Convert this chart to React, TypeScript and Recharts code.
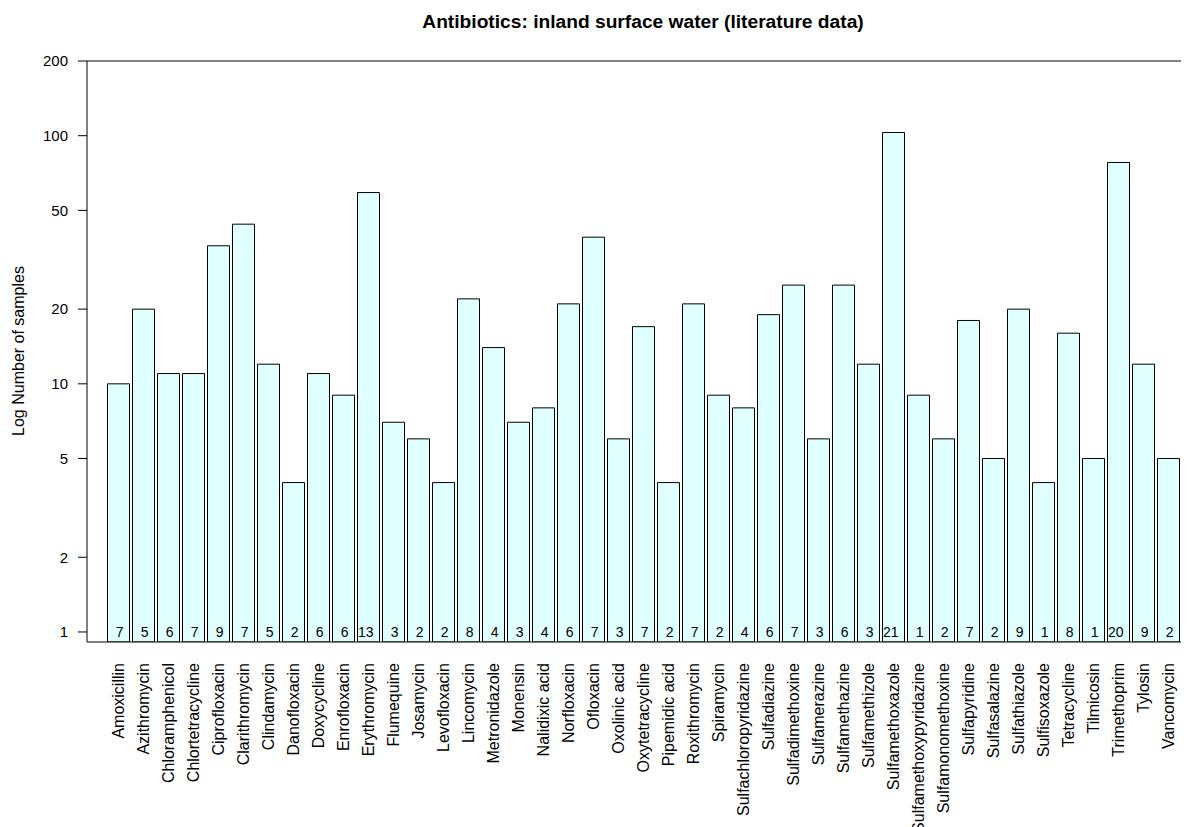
import { Bar, BarChart, LabelList, ReferenceLine, XAxis, YAxis } from "recharts";

const antibiotics = [
  "Amoxicillin", "Azithromycin", "Chloramphenicol", "Chlortetracycline", "Ciprofloxacin",
  "Clarithromycin", "Clindamycin", "Danofloxacin", "Doxycycline", "Enrofloxacin",
  "Erythromycin", "Flumequine", "Josamycin", "Levofloxacin", "Lincomycin",
  "Metronidazole", "Monensin", "Nalidixic acid", "Norfloxacin", "Ofloxacin",
  "Oxolinic acid", "Oxytetracycline", "Pipemidic acid", "Roxithromycin", "Spiramycin",
  "Sulfachloropyridazine", "Sulfadiazine", "Sulfadimethoxine", "Sulfamerazine", "Sulfamethazine",
  "Sulfamethizole", "Sulfamethoxazole", "Sulfamethoxypyridazine", "Sulfamonomethoxine", "Sulfapyridine",
  "Sulfasalazine", "Sulfathiazole", "Sulfisoxazole", "Tetracycline", "Tilmicosin",
  "Trimethoprim", "Tylosin", "Vancomycin",
];

// number of samples (bar height, log axis)
const samples = [
  10, 20, 11, 11, 36, 44, 12, 4, 11, 9,
  59, 7, 6, 4, 22, 14, 7, 8, 21, 39,
  6, 17, 4, 21, 9, 8, 19, 25, 6, 25,
  12, 103, 9, 6, 18, 5, 20, 4, 16, 5,
  78, 12, 5,
];

// number of studies (printed at the foot of each bar)
const studies = [
  7, 5, 6, 7, 9, 7, 5, 2, 6, 6,
  13, 3, 2, 2, 8, 4, 3, 4, 6, 7,
  3, 7, 2, 7, 2, 4, 6, 7, 3, 6,
  3, 21, 1, 2, 7, 2, 9, 1, 8, 1,
  20, 9, 2,
];

const yTicks = [1, 2, 5, 10, 20, 50, 100, 200];

const FONT = "'Liberation Sans', Arial, sans-serif";

const data = antibiotics.map((name, i) => ({
  name,
  samples: samples[i],
  studies: studies[i],
}));

function NameTick({ x, y, payload }: any) {
  return (
    <text
      transform={`translate(${x},${y + 13}) rotate(-90)`}
      textAnchor="end"
      dominantBaseline="central"
      fontSize={16}
      fontFamily={FONT}
      fill="#000"
    >
      {payload.value}
    </text>
  );
}

function StudyLabel({ x, y, width, height, value }: any) {
  const bottom = y + height;
  return (
    <text
      x={x + width / 2 + 5}
      y={bottom - 10}
      textAnchor="end"
      dominantBaseline="central"
      fontSize={14}
      fontFamily={FONT}
      fill="#000"
    >
      {value}
    </text>
  );
}

export default function App() {
  return (
    <div style={{ position: "relative", width: 1181, height: 819, fontFamily: FONT }}>
      <div
        style={{
          position: "absolute",
          left: 0,
          width: 1270,
          top: 3,
          textAlign: "center",
          fontWeight: "bold",
          fontSize: 19.2,
          color: "#000",
        }}
      >
        Antibiotics: inland surface water (literature data)
      </div>
      <div
        style={{
          position: "absolute",
          left: 11,
          top: 343,
          transform: "translate(-50%, -50%) rotate(-90deg)",
          whiteSpace: "nowrap",
          fontSize: 16,
          color: "#000",
        }}
      >
        Log Number of samples
      </div>
      <BarChart
        width={1181}
        height={819}
        data={data}
        margin={{ top: 53, right: 0, bottom: 0, left: 0 }}
        barSize={22}
      >
        <XAxis
          dataKey="name"
          interval={0}
          height={185}
          padding={{ left: 18.5, right: 8.5 }}
          tickLine={false}
          axisLine={{ stroke: "#000", strokeWidth: 1 }}
          tick={<NameTick />}
        />
        <YAxis
          type="number"
          scale="log"
          domain={[0.911, 200]}
          allowDataOverflow
          ticks={yTicks}
          width={79}
          tickSize={9}
          tickMargin={10}
          axisLine={{ stroke: "#000", strokeWidth: 1 }}
          tickLine={{ stroke: "#000" }}
          tick={{ fill: "#000", fontSize: 15, fontFamily: FONT }}
        />
        <ReferenceLine y={200} stroke="#000" strokeWidth={1} />
        <Bar
          dataKey="samples"
          fill="#e0ffff"
          stroke="#000"
          strokeWidth={1}
          isAnimationActive={false}
        >
          <LabelList dataKey="studies" content={<StudyLabel />} />
        </Bar>
      </BarChart>
    </div>
  );
}
